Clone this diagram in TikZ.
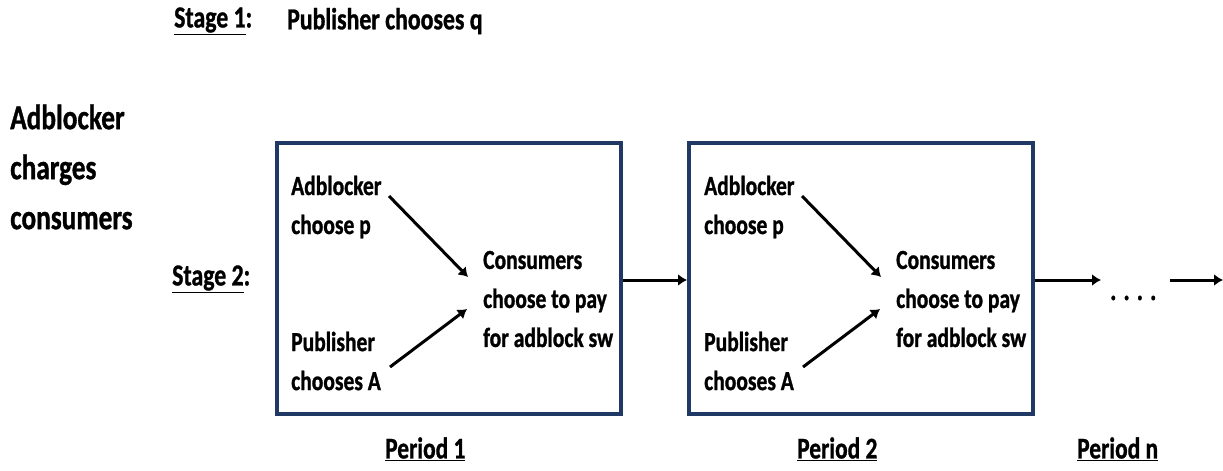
\documentclass[tikz,border=0pt]{standalone}
\usepackage{fontspec}
\setmainfont{Carlito}[FakeStretch=0.78,BoldFeatures={FakeStretch=0.78,FakeBold=1}]
\usetikzlibrary{arrows.meta}
\definecolor{boxblue}{HTML}{203864}
\begin{document}
\begin{tikzpicture}[x=1pt,y=-1pt,
  boxtxt/.style={font=\bfseries\fontsize{27.6}{39}\selectfont, align=left, inner sep=0pt, anchor=west},
  headtxt/.style={font=\bfseries\fontsize{30.5}{38}\selectfont, inner sep=0pt, anchor=west},
  sidetxt/.style={font=\bfseries\fontsize{35}{50}\selectfont, align=left, inner sep=0pt, anchor=west},
  pertxt/.style={font=\bfseries\fontsize{30}{36}\selectfont, inner sep=0pt, anchor=west},
  periodbox/.style={draw=boxblue, line width=4pt, minimum width=344pt, minimum height=271pt, inner sep=0pt},
  arr/.style={line width=3pt, -{Latex[length=9pt,width=12pt]}}
]
\useasboundingbox (0,0) rectangle (1223,471);

% header
\node[headtxt] (s1) at (174,21) {\underline{Stage 1}:};
\node[headtxt] (s1t) at (287,21) {Publisher chooses q};
\node[sidetxt] (side) at (10,167) {Adblocker\\charges\\consumers};
\node[headtxt] (s2) at (172,279) {\underline{Stage 2}:};

% boxes
\node[periodbox] (b1) at (449,278.5) {};
\node[periodbox] (b2) at (861,278.5) {};

% box 1 contents
\node[boxtxt] (ab1) at (291,207) {Adblocker\\choose p};
\node[boxtxt] (pu1) at (291,361) {Publisher\\chooses A};
\node[boxtxt] (co1) at (483,299) {Consumers\\choose to pay\\for adblock sw};
% box 2 contents
\node[boxtxt] (ab2) at (704,207) {Adblocker\\choose p};
\node[boxtxt] (pu2) at (704,361) {Publisher\\chooses A};
\node[boxtxt] (co2) at (896,299) {Consumers\\choose to pay\\for adblock sw};

% diagonal arrows
\coordinate (a1s) at (389,196);
\coordinate (a1e) at (468,277);
\coordinate (p1s) at (390,367);
\coordinate (p1e) at (467,309);
\coordinate (a2s) at (802,196);
\coordinate (a2e) at (881,277);
\coordinate (p2s) at (803,367);
\coordinate (p2e) at (880,309);
\draw[arr] (a1s) -- (a1e);
\draw[arr] (p1s) -- (p1e);
\draw[arr] (a2s) -- (a2e);
\draw[arr] (p2s) -- (p2e);

% horizontal arrows
\coordinate (e2) at (1101,280);
\coordinate (s3) at (1170,280);
\coordinate (e3) at (1223,280);
\draw[arr] (b1.east |- 0,280) -- (b2.west |- 0,280);
\draw[arr] (b2.east |- 0,280) -- (e2);
\node[pertxt] (dots) at (1110,298) {. . . .};
\draw[arr] (s3) -- (e3);

% period labels
\node[pertxt] (p1) at (385,449) {\underline{Period 1}};
\node[pertxt] (p2) at (797,449) {\underline{Period 2}};
\node[pertxt] (pn) at (1077,449) {\underline{Period n}};
\end{tikzpicture}
\end{document}
